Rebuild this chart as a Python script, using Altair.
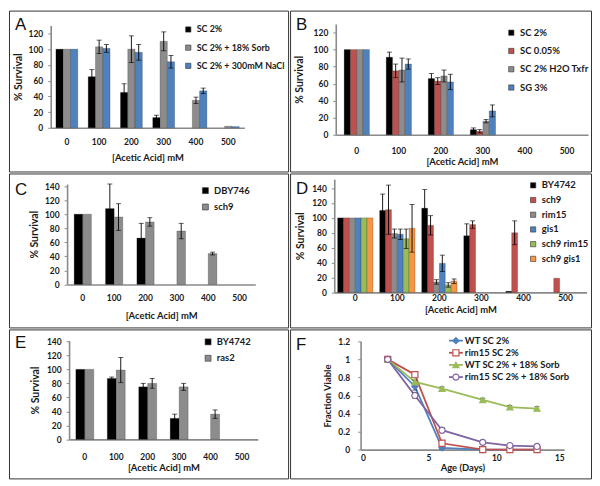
import altair as alt
import pandas as pd

# ---------------- data ----------------
ACID = ["0", "100", "200", "300", "400", "500"]

A_SERIES = ["SC 2%", "SC 2% + 18% Sorb", "SC 2% + 300mM NaCl"]
A_COLORS = ["#000000", "#8C8C8C", "#4F81BD"]
A_VALUES = [[100, 65, 45, 13, 0, 0],
            [100, 103, 100, 110, 35, 2],
            [100, 101, 96, 84, 47, 1.5]]
A_ERRORS = [[0, 9, 11, 3, 0, 0],
            [0, 8.5, 17, 12, 4, 0],
            [0, 5, 10, 8, 3.5, 0]]

B_SERIES = ["SC 2%", "SC 0.05%", "SC 2% H2O Txfr", "SG 3%"]
B_COLORS = ["#000000", "#C0504D", "#8C8C8C", "#4F81BD"]
B_VALUES = [[100, 91, 66, 6, 0, 0],
            [100, 75, 63, 4, 0, 0],
            [100, 76, 69, 16, 0, 0],
            [100, 83, 62, 28, 0, 0]]
B_ERRORS = [[0, 6, 6, 2, 0, 0],
            [0, 8, 4, 2, 0, 0],
            [0, 14, 7, 2, 0, 0],
            [0, 6, 9, 7, 0, 0]]

C_SERIES = ["DBY746", "sch9"]
C_COLORS = ["#000000", "#8C8C8C"]
C_VALUES = [[100, 108, 66, 0, 0, 0],
            [100, 96, 89, 76, 44, 0]]
C_ERRORS = [[0, 35, 21, 0, 0, 0],
            [0, 19, 6, 11, 2, 0]]

D_SERIES = ["BY4742", "sch9", "rim15", "gis1", "sch9 rim15", "sch9 gis1"]
D_COLORS = ["#000000", "#C0504D", "#8C8C8C", "#4F81BD", "#9BBB59", "#F79646"]
D_VALUES = [[100, 110, 113, 76, 1.5, 0],
            [100, 111, 90, 91, 80, 19],
            [100, 79, 14, 0, 0, 0],
            [100, 78, 39, 0, 0, 0],
            [100, 72, 10, 0, 0, 0],
            [100, 86, 15, 0, 0, 0]]
D_ERRORS = [[0, 22, 25, 16, 0, 0],
            [0, 33, 13, 5, 16, 0],
            [0, 6, 3, 0, 0, 0],
            [0, 7, 11, 0, 0, 0],
            [0, 13, 3, 0, 0, 0],
            [0, 32, 3, 0, 0, 0]]

E_SERIES = ["BY4742", "ras2"]
E_COLORS = ["#000000", "#8C8C8C"]
E_VALUES = [[100, 87, 75, 30, 0, 0],
            [100, 99, 80, 75, 36, 0]]
E_ERRORS = [[0, 2, 5, 6, 0, 0],
            [0, 18, 7, 5, 6, 0]]

F_DAYS = [2, 4, 6, 9, 11, 13]
F_SERIES = ["WT SC 2%", "rim15 SC 2%", "WT SC 2% + 18% Sorb", "rim15 SC 2% + 18% Sorb"]
F_COLORS = ["#4F81BD", "#C0504D", "#9BBB59", "#8064A2"]
F_SHAPES = ["diamond", "square", "triangle-up", "circle"]
F_FILLS = ["#4F81BD", "#FFFFFF", "#9BBB59", "#FFFFFF"]
F_VALUES = [[1, 0.70, 0.02, 0, 0, 0],
            [1, 0.83, 0.07, 0, 0, 0],
            [1, 0.75, 0.675, 0.55, 0.47, 0.455],
            [1, 0.60, 0.215, 0.08, 0.045, 0.035]]
F_ERRORS = [[0, 0.04, 0.02, 0, 0, 0],
            [0, 0.03, 0.03, 0, 0, 0],
            [0, 0.02, 0.02, 0.02, 0.02, 0.02],
            [0, 0.03, 0.03, 0.01, 0.01, 0.01]]

# ---------------- style ----------------
FONT = "Lato"
LETTER_FONT = "Liberation Sans"
AX = "#8A8A8A"
TXT = "#1A1A1A"


def letter_layer(letter, ly):
    return alt.Chart(pd.DataFrame({"lab": [letter]})).mark_text(
        align="left", baseline="top", font=LETTER_FONT, fontSize=17, color="#111"
    ).encode(text="lab:N", x=alt.value(6), y=alt.value(ly))


def bar_panel(letter, ly, series, colors, values, errors, W, H, xr, yr, ydom, yvals,
              pad_inner, lab_pad, title_pad, ytitle_pad, lx, lgy, row_pad, sym, lfs=9.5):
    rows = []
    for s, vs, es in zip(series, values, errors):
        for c, v, e in zip(ACID, vs, es):
            rows.append(dict(conc=c, series=s, value=v, err=e, lo=v - e, hi=v + e))
    df = pd.DataFrame(rows)

    xaxis = alt.Axis(title="[Acetic Acid] mM", labelAngle=0, offset=yr[0] - H, tickSize=0,
                     labelPadding=lab_pad, titlePadding=title_pad, domainColor=AX, domainWidth=1.6,
                     labelFont=FONT, labelFontSize=8.5, labelFontWeight="bold", labelColor=TXT,
                     titleFont=FONT, titleFontSize=9.5, titleFontWeight="bold", titleColor=TXT)
    yaxis = alt.Axis(title="% Survival", values=yvals, offset=-xr[0], grid=False, tickSize=3,
                     tickColor=AX, domainColor=AX, domainWidth=1.6, labelPadding=5,
                     titlePadding=ytitle_pad, labelFont=FONT, labelFontSize=8.5,
                     labelFontWeight="bold", labelColor=TXT, titleFont=FONT, titleFontSize=10.5,
                     titleFontWeight="bold", titleColor=TXT)
    xs = alt.Scale(domain=ACID, range=xr, paddingInner=pad_inner, paddingOuter=pad_inner / 2)
    ys = alt.Scale(domain=ydom, range=yr, nice=False)
    xenc = alt.X("conc:N", sort=ACID, scale=xs, axis=xaxis)
    xoff = alt.XOffset("series:N", sort=series,
                       scale=alt.Scale(domain=series, paddingInner=0, paddingOuter=0))

    base = alt.Chart(df)
    bars = base.transform_filter("datum.value > 0").mark_bar(
        stroke="#000000", strokeOpacity=0.35, strokeWidth=0.6).encode(
        x=xenc, xOffset=xoff,
        y=alt.Y("value:Q", scale=ys, axis=yaxis),
        color=alt.Color("series:N", sort=series, scale=alt.Scale(domain=series, range=colors),
                        legend=alt.Legend(orient="none", legendX=lx, legendY=lgy, title=None,
                                          symbolType="square", symbolSize=sym,
                                          symbolStrokeWidth=0.6, symbolStrokeColor="#333333",
                                          labelFont=FONT, labelFontSize=lfs, labelFontWeight="bold",
                                          labelColor=TXT, rowPadding=row_pad, padding=0,
                                          labelOffset=4, labelLimit=0)),
    )
    eb = base.transform_filter("datum.err > 0")
    rule = eb.mark_rule(color="#000000", strokeWidth=0.9).encode(
        x=xenc, xOffset=xoff, y=alt.Y("lo:Q", scale=ys, axis=yaxis), y2="hi:Q")
    cap_hi = eb.mark_tick(color="#000000", thickness=0.9, size=5, orient="horizontal").encode(
        x=xenc, xOffset=xoff, y=alt.Y("hi:Q", scale=ys, axis=yaxis))
    cap_lo = eb.mark_tick(color="#000000", thickness=0.9, size=5, orient="horizontal").encode(
        x=xenc, xOffset=xoff, y=alt.Y("lo:Q", scale=ys, axis=yaxis))
    return alt.layer(bars, rule, cap_hi, cap_lo, letter_layer(letter, ly)).properties(
        width=W, height=H)


pA = bar_panel("A", 7, A_SERIES, A_COLORS, A_VALUES, A_ERRORS, 281, 162,
               [42, 237], [118, 15.1], [0, 130], [0, 20, 40, 60, 80, 100, 120],
               0.323, 10, 6, 5, 176, 14.5, 8.3, 28, 9)
pB = bar_panel("B", 7, B_SERIES, B_COLORS, B_VALUES, B_ERRORS, 303, 162,
               [46, 300], [125, 13.5], [0, 130], [0, 20, 40, 60, 80, 100, 120],
               0.40, 11.5, 2, 9, 218, 17.5, 7.4, 28)
pC = bar_panel("C", 9, C_SERIES, C_COLORS, C_VALUES, C_ERRORS, 281, 155,
               [58.5, 248], [111.7, 10.6], [0, 143], [0, 20, 40, 60, 80, 100, 120, 140],
               0.45, 9.5, 8, 5.5, 193, 12.5, 5.5, 36)
pD = bar_panel("D", 8, D_SERIES, D_COLORS, D_VALUES, D_ERRORS, 303, 155,
               [44.5, 298.5], [119.7, 5.7], [0, 152], [0, 20, 40, 60, 80, 100, 120, 140],
               0.16, 1, 2.5, 6, 240, 7.2, 3.8, 28)
pE = bar_panel("E", 6, E_SERIES, E_COLORS, E_VALUES, E_ERRORS, 281, 150,
               [60.5, 250.5], [110.7, 11.3], [0, 141], [0, 20, 40, 60, 80, 100, 120, 140],
               0.43, 13, 1.5, 5.5, 195.7, 7.8, 5.5, 36)

# ---------------- panel F ----------------
rowsF = []
for s, vs, es in zip(F_SERIES, F_VALUES, F_ERRORS):
    for d, v, e in zip(F_DAYS, vs, es):
        rowsF.append(dict(day=d, series=s, value=v, err=e, lo=v - e, hi=v + e))
dfF = pd.DataFrame(rowsF)

WF, HF = 303, 150
xsF = alt.Scale(domain=[0, 15], range=[71, 276], nice=False)
ysF = alt.Scale(domain=[0, 1.2], range=[121, 12], nice=False)
xaxF = alt.Axis(title="Age (Days)", values=[0, 5, 10, 15], offset=121 - HF, tickSize=0,
                grid=False, labelPadding=3.5, titlePadding=1, domainColor=AX, domainWidth=1.6,
                labelFont=FONT, labelFontSize=8.5, labelFontWeight="bold", labelColor=TXT,
                titleFont=FONT, titleFontSize=9.5, titleFontWeight="bold", titleColor=TXT)
yaxF = alt.Axis(title="Fraction Viable", values=[0, 0.2, 0.4, 0.6, 0.8, 1, 1.2], format="~g",
                offset=-71, grid=False, tickSize=3, tickColor=AX, domainColor=AX,
                domainWidth=1.6, labelPadding=8, titlePadding=5, labelFont=FONT,
                labelFontSize=8.5, labelFontWeight="bold", labelColor=TXT, titleFont=FONT,
                titleFontSize=9.5, titleFontWeight="bold", titleColor=TXT)
xF = alt.X("day:Q", scale=xsF, axis=xaxF)
colF = alt.Color("series:N", sort=F_SERIES, scale=alt.Scale(domain=F_SERIES, range=F_COLORS),
                 legend=None)
shpF = alt.Shape("series:N", sort=F_SERIES, scale=alt.Scale(domain=F_SERIES, range=F_SHAPES),
                 legend=None)
filF = alt.Fill("series:N", sort=F_SERIES, scale=alt.Scale(domain=F_SERIES, range=F_FILLS),
                legend=None)
strF = alt.Stroke("series:N", sort=F_SERIES, scale=alt.Scale(domain=F_SERIES, range=F_COLORS),
                  legend=None)

baseF = alt.Chart(dfF)
linesF = baseF.mark_line(strokeWidth=1.8).encode(
    x=xF, y=alt.Y("value:Q", scale=ysF, axis=yaxF), color=colF, order="day:Q")
ebF = baseF.transform_filter("datum.err > 0")
ruleF = ebF.mark_rule(color="#000000", strokeWidth=0.9).encode(
    x=xF, y=alt.Y("lo:Q", scale=ysF, axis=yaxF), y2="hi:Q")
capHF = ebF.mark_tick(color="#000000", thickness=0.9, size=5, orient="horizontal").encode(
    x=xF, y=alt.Y("hi:Q", scale=ysF, axis=yaxF))
capLF = ebF.mark_tick(color="#000000", thickness=0.9, size=5, orient="horizontal").encode(
    x=xF, y=alt.Y("lo:Q", scale=ysF, axis=yaxF))
ptsF = baseF.mark_point(filled=True, size=38, strokeWidth=1.2, opacity=1).encode(
    x=xF, y=alt.Y("value:Q", scale=ysF, axis=yaxF), shape=shpF, fill=filF, stroke=strF)
dataF = alt.layer(linesF, ruleF, capHF, capLF, ptsF)

legdf = pd.DataFrame({"series": F_SERIES})
yL = alt.Y("series:N", sort=F_SERIES,
           scale=alt.Scale(type="point", domain=F_SERIES, range=[11.3, 48], padding=0), axis=None)
legRule = alt.Chart(legdf).mark_rule(strokeWidth=1.8).encode(
    x=alt.value(160), x2=alt.value(174), y=yL, color=colF)
legPt = alt.Chart(legdf).mark_point(filled=True, size=38, strokeWidth=1.2, opacity=1).encode(
    x=alt.value(167), y=yL, shape=shpF, fill=filF, stroke=strF)
legTxt = alt.Chart(legdf).mark_text(align="left", baseline="middle", font=FONT, fontSize=9.5,
                                    fontWeight="bold", color=TXT).encode(
    x=alt.value(176), y=yL, text="series:N")
legF = alt.layer(legRule, legPt, legTxt)

pF = alt.layer(dataF, legF, letter_layer("F", 8)).resolve_scale(y="independent").properties(
    width=WF, height=HF)

# ---------------- layout ----------------
res = dict(color="independent", xOffset="independent", shape="independent",
           fill="independent", stroke="independent")
row1 = alt.hconcat(pA, pB, spacing=0).resolve_scale(**res)
row2 = alt.hconcat(pC, pD, spacing=0).resolve_scale(**res)
row3 = alt.hconcat(pE, pF, spacing=0).resolve_scale(**res)

chart = alt.vconcat(row1, row2, row3, spacing=0).resolve_scale(**res).properties(
    padding=0, background="white"
).configure_view(stroke="#333333", strokeWidth=1)

chart.save("out.html", embed_options={"renderer": "svg", "actions": False})
